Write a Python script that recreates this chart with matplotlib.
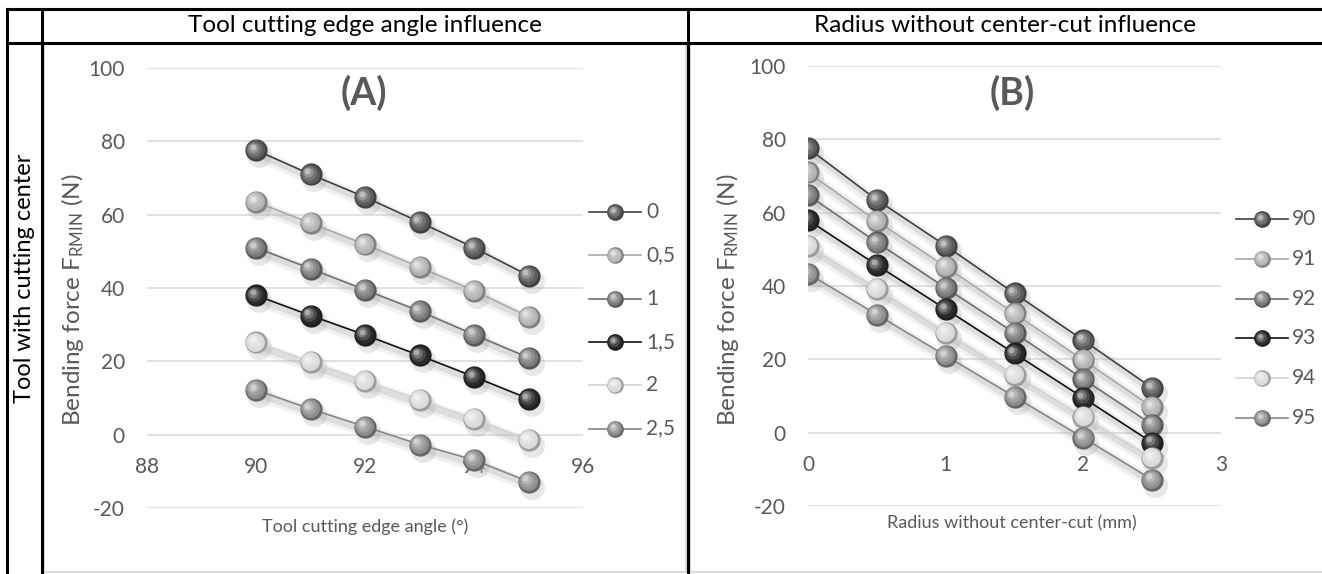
import numpy as np
import matplotlib.pyplot as plt
import matplotlib.colors as mcolors
from matplotlib import transforms
from matplotlib.lines import Line2D
from matplotlib.patches import Rectangle

plt.rcParams['font.family'] = ['Lato', 'DejaVu Sans']
plt.rcParams['axes.unicode_minus'] = False

# bending force (N): one list per radius without center-cut, over the cutting edge angles
angles = [90, 91, 92, 93, 94, 95]
radii = [0, 0.5, 1, 1.5, 2, 2.5]
radius_labels = ["0", "0,5", "1", "1,5", "2", "2,5"]
angle_labels = ["90", "91", "92", "93", "94", "95"]
force_r0 = [77.6, 71.0, 64.8, 58.0, 51.0, 43.4]
force_r05 = [63.5, 57.7, 51.9, 45.7, 39.3, 32.2]
force_r1 = [51.0, 45.3, 39.5, 33.7, 27.3, 21.0]
force_r15 = [38.0, 32.5, 27.2, 21.6, 15.8, 9.8]
force_r2 = [25.2, 19.8, 14.6, 9.5, 4.3, -1.4]
force_r25 = [12.2, 7.0, 2.2, -2.7, -6.9, -12.8]
force = np.array([force_r0, force_r05, force_r1, force_r15, force_r2, force_r25])

xticks_a = [88, 90, 92, 94, 96]
xticks_b = [0, 1, 2, 3]
yticks = [-20, 0, 20, 40, 60, 80, 100]

ball_colors = ['#5c5c5c', '#b4b4b4', '#7c7c7c', '#2b2b2b', '#dadada', '#8f8f8f']
line_colors = ['#404040', '#a8a8a8', '#6e6e6e', '#111111', '#d2d2d2', '#868686']
TXT = '#595959'

W, H = 1322, 574
fig = plt.figure(figsize=(W / 100, H / 100), dpi=100)


def fx(px):
    return px / W


def fy(py):
    return 1 - py / H


def balls(ax_or_fig, x, y, color, size, z, trans):
    base = np.array(mcolors.to_rgb(color))
    add = ax_or_fig.add_artist
    add(Line2D(x, y, ls='none', marker='o', ms=size, mfc=base * 0.72, mec='none',
               zorder=z, transform=trans))
    steps = [(0.0, 0.85, 0.5), (0.15, 0.65, 1.1), (0.35, 0.45, 1.7), (0.6, 0.26, 2.1)]
    for frac, s, off in steps:
        col = base + (1 - base) * frac
        tr = transforms.offset_copy(trans, fig=fig, x=-off * size / 15, y=off * size / 15,
                                    units='points')
        add(Line2D(x, y, ls='none', marker='o', ms=size * s, mfc=col, mec='none',
                   zorder=z, transform=tr))


def draw_series(ax, x, y, i):
    sh1 = transforms.offset_copy(ax.transData, fig=fig, x=3, y=-5, units='dots')
    ax.plot(x, y, color='#bdbdbd', lw=9, alpha=0.2, solid_capstyle='round',
            transform=sh1, zorder=1)
    ax.plot(x, y, color='#b0b0b0', lw=4, alpha=0.3, solid_capstyle='round',
            transform=sh1, zorder=1)
    ax.plot(x, y, ls='none', marker='o', ms=18, mfc='#a0a0a0', mec='none',
            alpha=0.25, transform=sh1, zorder=1)
    ax.plot(x, y, color=line_colors[i], lw=1.2, zorder=3 + 2 * i)
    balls(ax, x, y, ball_colors[i], 16, 4 + 2 * i, ax.transData)


def setup(ax, xlim, xticks):
    ax.set_xlim(*xlim)
    ax.set_ylim(-20, 100)
    ax.set_xticks(xticks)
    ax.set_xticklabels([str(t) for t in xticks])
    ax.set_yticks(yticks)
    ax.set_yticklabels([str(t) for t in yticks])
    ax.grid(axis='y', color='#d9d9d9', lw=1.1)
    ax.set_axisbelow(True)
    for s in ['top', 'right', 'left']:
        ax.spines[s].set_visible(False)
    ax.spines['bottom'].set_position(('data', 0))
    ax.spines['bottom'].set_color('none')
    ax.tick_params(axis='y', length=0, pad=16, labelsize=15, labelcolor=TXT)
    ax.tick_params(axis='x', length=0, pad=16, labelsize=15, labelcolor=TXT)
    ax.patch.set_alpha(0)


# panel A: force against cutting edge angle, one series per radius
axA = fig.add_axes([fx(147), fy(508), fx(583) - fx(147), fy(68) - fy(508)])
setup(axA, (88, 96), xticks_a)
for i in range(len(radii)):
    draw_series(axA, angles, force[i], i)

# panel B: force against radius, one series per angle
axB = fig.add_axes([fx(808), fy(506), fx(1221) - fx(808), fy(66) - fy(506)])
setup(axB, (0, 3), xticks_b)
for j in range(len(angles)):
    draw_series(axB, radii, force[:, j], j)

# panel letters and axis titles
fig.text(fx(364), fy(93), '(A)', ha='center', va='center', fontsize=27,
         fontweight='bold', color=TXT)
fig.text(fx(1012), fy(93), '(B)', ha='center', va='center', fontsize=27,
         fontweight='bold', color=TXT)
fig.text(fx(365), fy(527), 'Tool cutting edge angle (°)', ha='center', va='center',
         fontsize=13, color=TXT)
fig.text(fx(1012), fy(523), 'Radius without center-cut (mm)', ha='center', va='center',
         fontsize=13, color=TXT)
ylab = r'Bending force $\mathregular{F_{RMIN}}$ (N)'
fig.text(fx(73), fy(300), ylab, rotation=90, ha='center', va='center', fontsize=17.5, color=TXT)
fig.text(fx(727), fy(300), ylab, rotation=90, ha='center', va='center', fontsize=17.5, color=TXT)


# legends
def legend(labels, y0, step, x0, x1, xt):
    for i, lab in enumerate(labels):
        yy = fy(y0 + i * step)
        fig.add_artist(Line2D([fx(x0), fx(x1)], [yy, yy], color=line_colors[i], lw=1.2))
        balls(fig, [fx((x0 + x1) / 2)], [yy], ball_colors[i], 12, 5, fig.transFigure)
        fig.text(fx(xt), yy, lab, ha='left', va='center', fontsize=15, color=TXT)


legend(radius_labels, 212, 43.3, 589, 641, 646)
legend(angle_labels, 219, 39.8, 1236, 1288, 1292)

# chart area frames
for x0, x1 in [(44, 686), (690, 1324)]:
    fig.add_artist(Rectangle((fx(x0), fy(572)), fx(x1) - fx(x0), fy(44) - fy(572),
                             facecolor='none', edgecolor='#d9d9d9', lw=1.5,
                             transform=fig.transFigure))

# table grid
def rule(xs, ys):
    fig.add_artist(Line2D([fx(v) for v in xs], [fy(v) for v in ys], color='black', lw=2.2))


rule([7, 1322], [9, 9])
rule([7, 1322], [43, 43])
rule([7, 7], [9, 574])
rule([42, 42], [9, 574])
rule([688, 688], [9, 574])

fig.text(fx(365), fy(26), 'Tool cutting edge angle influence', ha='center', va='center',
         fontsize=17.5, color='black')
fig.text(fx(1005), fy(26), 'Radius without center-cut influence', ha='center', va='center',
         fontsize=17.5, color='black')
fig.text(fx(25), fy(278), 'Tool with cutting center', rotation=90, ha='center', va='center',
         fontsize=17, color='black')

fig.savefig('out.png', dpi=100, facecolor='white')
